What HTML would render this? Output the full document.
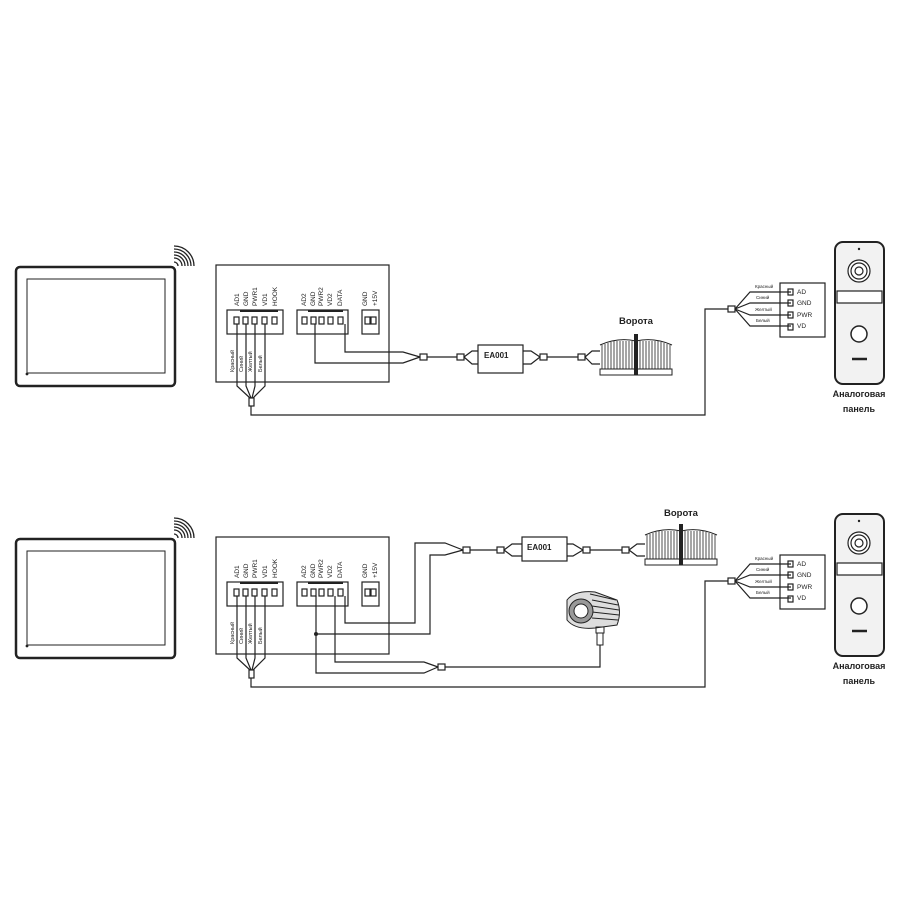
<!DOCTYPE html>
<html><head><meta charset="utf-8"><style>
html,body{margin:0;padding:0;background:#fff}
svg{display:block}
text{font-family:"Liberation Sans",sans-serif;fill:#222}
</style></head><body>
<svg width="923" height="923" viewBox="0 0 923 923" xmlns="http://www.w3.org/2000/svg" fill="none" stroke="#222" stroke-width="1.2">
<defs>
<g id="left">
  <rect x="16" y="267" width="159" height="119" rx="4" stroke-width="2.5"/>
  <rect x="27" y="279" width="138" height="94" stroke-width="1"/>
  <circle cx="27" cy="374" r="0.8" fill="#222"/>
  <g stroke-width="1.3">
    <path d="M174 262 a4 4 0 0 1 4 4"/><path d="M174 258 a8 8 0 0 1 8 8"/>
    <path d="M174 255 a11 11 0 0 1 11 11"/><path d="M174 252 a14 14 0 0 1 14 14"/>
    <path d="M174 249 a17 17 0 0 1 17 17"/><path d="M174 246 a20 20 0 0 1 20 20"/>
  </g>
  <rect x="216" y="265" width="173" height="117" stroke-width="1.2"/>
  <rect x="227" y="310" width="56" height="24"/>
  <line x1="240" y1="311" x2="278" y2="311" stroke-width="2"/>
  <rect x="234" y="317" width="5" height="7"/><rect x="243" y="317" width="5" height="7"/><rect x="252" y="317" width="5" height="7"/><rect x="262" y="317" width="5" height="7"/><rect x="272" y="317" width="5" height="7"/>
  <rect x="297" y="310" width="51" height="24"/>
  <line x1="308" y1="311" x2="343" y2="311" stroke-width="2"/>
  <rect x="302" y="317" width="5" height="7"/><rect x="311" y="317" width="5" height="7"/><rect x="319" y="317" width="5" height="7"/><rect x="328" y="317" width="5" height="7"/><rect x="338" y="317" width="5" height="7"/>
  <rect x="362" y="310" width="17" height="24"/>
  <rect x="365" y="317" width="5" height="7"/><rect x="371" y="317" width="5" height="7"/>
  <g stroke="none" font-size="6.5">
    <text transform="translate(239,306) rotate(-90)">AD1</text>
    <text transform="translate(248,306) rotate(-90)">GND</text>
    <text transform="translate(257,306) rotate(-90)">PWR1</text>
    <text transform="translate(267,306) rotate(-90)">VD1</text>
    <text transform="translate(277,306) rotate(-90)">HOOK</text>
    <text transform="translate(306,306) rotate(-90)">AD2</text>
    <text transform="translate(315,306) rotate(-90)">GND</text>
    <text transform="translate(323,306) rotate(-90)">PWR2</text>
    <text transform="translate(332,306) rotate(-90)">VD2</text>
    <text transform="translate(342,306) rotate(-90)">DATA</text>
    <text transform="translate(367,306) rotate(-90)">GND</text>
    <text transform="translate(377,306) rotate(-90)">+15V</text>
    <text transform="translate(234,372) rotate(-90)" font-size="5.5">Красный</text>
    <text transform="translate(243,372) rotate(-90)" font-size="5.5">Синий</text>
    <text transform="translate(252,372) rotate(-90)" font-size="5.5">Желтый</text>
    <text transform="translate(262,372) rotate(-90)" font-size="5.5">Белый</text>
  </g>
  <path d="M237 324 V386 L250 398 M246 324 V386 L251 398 M255 324 V386 L252 398 M265 324 V386 L253 398"/>
  <rect x="249" y="398" width="5" height="8"/>
  <path d="M251 406 V415 H705 V309 H728"/>
</g>
<g id="right">
  <rect x="728" y="306" width="7" height="6"/>
  <path d="M735 309 L750 292 H791 M735 309 L750 303 H791 M735 309 L750 315 H791 M735 309 L750 326 H791"/>
  <rect x="780" y="283" width="45" height="54"/>
  <rect x="788" y="289" width="5" height="6"/><rect x="788" y="300" width="5" height="6"/><rect x="788" y="312" width="5" height="6"/><rect x="788" y="324" width="5" height="6"/>
  <g stroke="none" font-size="4.5">
    <text x="755" y="288">Красный</text><text x="756" y="299">Синий</text><text x="755" y="311">Желтый</text><text x="756" y="322">Белый</text>
    <text x="797" y="294" font-size="6.5">AD</text><text x="797" y="305" font-size="6.5">GND</text><text x="797" y="317" font-size="6.5">PWR</text><text x="797" y="328" font-size="6.5">VD</text>
  </g>
  <rect x="835" y="242" width="49" height="142" rx="8" stroke-width="2" fill="#f2f2f2"/>
  <circle cx="859" cy="249" r="1.2" fill="#222" stroke="none"/>
  <circle cx="859" cy="271" r="11" fill="#fff"/><circle cx="859" cy="271" r="8"/><circle cx="859" cy="271" r="4"/>
  <rect x="837" y="291" width="45" height="12" fill="#fff"/>
  <circle cx="859" cy="334" r="8" fill="#fff" stroke-width="1.5"/>
  <line x1="852" y1="359" x2="867" y2="359" stroke-width="2.5"/>
  <g stroke="none" font-weight="bold" font-size="9" text-anchor="middle">
    <text x="859" y="397">Аналоговая</text><text x="859" y="412">панель</text>
  </g>
</g>
<g id="gate">
  <rect x="0" y="0" width="72" height="38" fill="#fff" stroke="none"/>
  <path d="M0 8 Q18 0 36 4 Q54 0 72 8" stroke-width="1"/>
  <g stroke-width="0.8">
    <path d="M2 8V32M5 7V32M8 6V32M11 5V32M14 4V32M17 4V32M20 4V32M23 4V32M26 4V32M29 4V32M32 4V32M40 4V32M43 4V32M46 4V32M49 4V32M52 4V32M55 4V32M58 4V32M61 5V32M64 6V32M67 7V32M70 8V32"/>
  </g>
  <rect x="0" y="32" width="72" height="6" stroke-width="1"/>
  <rect x="34" y="-3" width="4" height="41" fill="#222" stroke="none"/>
</g>
<g id="plug"><rect x="0" y="-3" width="7" height="6" fill="#fff"/></g>
</defs>

<use href="#left"/>
<use href="#right"/>
<path d="M315 324 V363 H403 L420 357 M345 324 V352 H403 L420 357"/>
<use href="#plug" x="420" y="357"/>
<path d="M427 357 H457"/>
<use href="#plug" x="457" y="357"/>
<path d="M464 357 L472 351 H478 M464 357 L472 364 H478"/>
<rect x="478" y="345" width="45" height="28" fill="#fff"/>
<text x="484" y="358" font-size="8" font-weight="bold" stroke="none">EA001</text>
<path d="M523 351 H531 L540 357 M523 364 H531 L540 357"/>
<use href="#plug" x="540" y="357"/>
<path d="M547 357 H578"/>
<use href="#plug" x="578" y="357"/>
<path d="M585 357 L592 351 H600 M585 357 L592 364 H600"/>
<use href="#gate" x="600" y="337"/>
<text x="636" y="324" font-size="9.5" font-weight="bold" text-anchor="middle" stroke="none">Ворота</text>

<g transform="translate(0,272)"><use href="#left"/><use href="#right"/></g>
<path d="M345 596 V623 H415 V543 H445 L463 550 M316 596 V634 H430 V555 H445 L463 550"/>
<circle cx="316" cy="634" r="2" fill="#222" stroke="none"/>
<use href="#plug" x="463" y="550"/>
<path d="M470 550 H497"/>
<use href="#plug" x="497" y="550"/>
<path d="M504 550 L512 544 H522 M504 550 L512 556 H522"/>
<rect x="522" y="537" width="45" height="24" fill="#fff"/>
<text x="527" y="550" font-size="8" font-weight="bold" stroke="none">EA001</text>
<path d="M567 544 H573 L583 550 M567 556 H573 L583 550"/>
<use href="#plug" x="583" y="550"/>
<path d="M590 550 H622"/>
<use href="#plug" x="622" y="550"/>
<path d="M629 550 L637 544 H645 M629 550 L637 556 H645"/>
<use href="#gate" x="645" y="527"/>
<text x="681" y="516" font-size="9.5" font-weight="bold" text-anchor="middle" stroke="none">Ворота</text>
<path d="M335 596 V662 H424 L438 667 M316 634 V673 H424 L438 667"/>
<use href="#plug" x="438" y="667"/>
<path d="M445 667 H600 V645"/>
<g stroke-width="1">
  <path d="M567 600 Q575 590 595 592 L617 600 Q622 612 617 625 L595 628 Q575 630 567 620 Z" fill="#ddd"/>
  <path d="M590 594 L616 600 M592 600 L618 605 M592 606 L619 610 M592 612 L619 615 M592 618 L618 620"/>
  <circle cx="581" cy="611" r="12" fill="#999"/><circle cx="581" cy="611" r="7" fill="#fff"/>
  <rect x="596" y="627" width="8" height="6"/><rect x="597" y="633" width="6" height="12"/>
</g>
</svg>
</body></html>
